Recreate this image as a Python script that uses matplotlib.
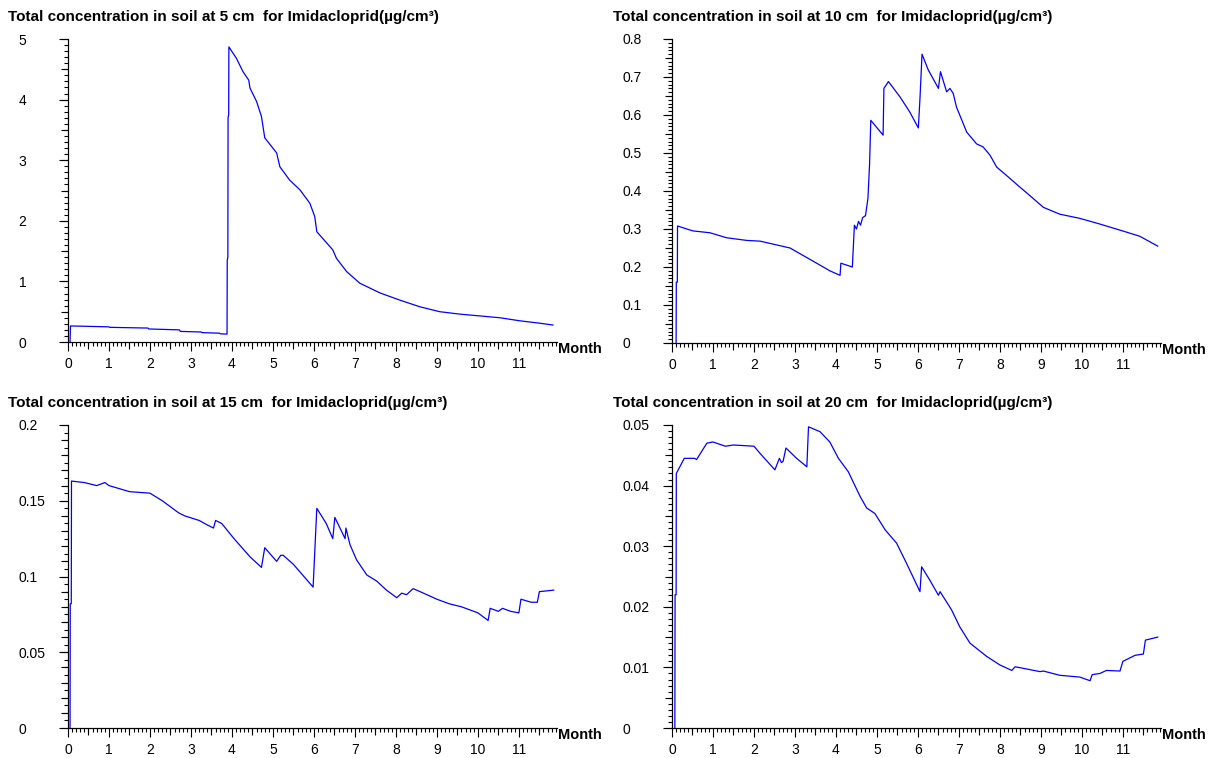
import matplotlib.pyplot as plt
from matplotlib.ticker import MultipleLocator, FuncFormatter
import numpy as np

plt.rcParams['font.family'] = ['Liberation Sans', 'DejaVu Sans']
plt.rcParams['font.size'] = 10

# time in months, concentration in ug/cm3
month_5cm = [0.05, 0.06, 1.0, 1.02, 1.95, 1.97, 2.72, 2.74, 3.25, 3.27,
             3.7, 3.72, 3.88, 3.885, 3.9, 3.905, 3.92, 3.925,
             4.11, 4.27, 4.41, 4.44, 4.6, 4.72, 4.8, 5.09, 5.17, 5.41, 5.66, 5.9,
             6.02, 6.07, 6.46, 6.55, 6.8, 7.12, 7.61, 8.1, 8.59, 9.07,
             9.56, 10.05, 10.54, 11.02, 11.51, 11.83]
conc_5cm = [0, 0.265, 0.25, 0.242, 0.23, 0.215, 0.2, 0.175, 0.165, 0.155,
            0.145, 0.135, 0.13, 1.35, 1.4, 3.7, 3.75, 4.87,
            4.68, 4.46, 4.32, 4.19, 3.97, 3.72, 3.37, 3.12, 2.89, 2.67, 2.51, 2.29,
            2.07, 1.82, 1.52, 1.38, 1.16, 0.97, 0.81, 0.69, 0.58, 0.5,
            0.46, 0.43, 0.4, 0.35, 0.31, 0.28]

month_10cm = [0.1, 0.105, 0.13, 0.135, 0.36, 0.51, 0.93, 1.33, 1.82, 2.15,
              2.88, 3.61, 3.85, 4.1, 4.12, 4.4, 4.45, 4.5, 4.55, 4.6,
              4.65, 4.72, 4.78, 4.82, 4.85, 5.15, 5.17, 5.28, 5.56, 5.8,
              6.01, 6.05, 6.1, 6.25, 6.5, 6.55, 6.7, 6.78, 6.86, 6.94,
              7.19, 7.43, 7.59, 7.76, 7.92, 8.16, 8.49, 8.73, 9.06, 9.46,
              9.95, 10.44, 10.93, 11.41, 11.85]
conc_10cm = [0, 0.16, 0.16, 0.308, 0.30, 0.295, 0.29, 0.277, 0.27, 0.268,
             0.25, 0.205, 0.19, 0.178, 0.21, 0.2, 0.31, 0.30, 0.32, 0.31,
             0.33, 0.335, 0.38, 0.47, 0.586, 0.547, 0.67, 0.688, 0.648, 0.608,
             0.566, 0.644, 0.76, 0.719, 0.67, 0.714, 0.661, 0.67, 0.657, 0.621,
             0.555, 0.524, 0.516, 0.494, 0.463, 0.441, 0.41, 0.388, 0.357, 0.339,
             0.328, 0.313, 0.297, 0.281, 0.255]

month_15cm = [0.05, 0.055, 0.08, 0.085, 0.4, 0.7, 0.9, 1.0, 1.5, 2.0,
              2.3, 2.7, 2.85, 3.2, 3.4, 3.55, 3.6, 3.75, 3.9, 4.05,
              4.44, 4.72, 4.8, 5.09, 5.19, 5.25, 5.5, 5.98, 6.07, 6.3,
              6.46, 6.51, 6.76, 6.78, 6.88, 7.04, 7.29, 7.53, 7.77, 8.02,
              8.14, 8.26, 8.42, 8.59, 9.0, 9.3, 9.6, 10.0, 10.25, 10.3,
              10.5, 10.6, 10.8, 11.0, 11.05, 11.3, 11.45, 11.5, 11.85]
conc_15cm = [0, 0.082, 0.082, 0.163, 0.162, 0.16, 0.162, 0.16, 0.156, 0.155,
             0.15, 0.142, 0.14, 0.137, 0.134, 0.132, 0.137, 0.135, 0.13, 0.125,
             0.113, 0.106, 0.119, 0.11, 0.114, 0.114, 0.108, 0.093, 0.145, 0.135,
             0.125, 0.139, 0.125, 0.132, 0.121, 0.111, 0.101, 0.097, 0.091, 0.086,
             0.089, 0.088, 0.092, 0.09, 0.085, 0.082, 0.08, 0.076, 0.071, 0.079,
             0.077, 0.079, 0.077, 0.076, 0.085, 0.083, 0.083, 0.09, 0.091]

month_20cm = [0.07, 0.075, 0.1, 0.105, 0.3, 0.55, 0.6, 0.85, 1.0, 1.3,
              1.5, 2.0, 2.15, 2.51, 2.62, 2.67, 2.71, 2.78, 3.04, 3.29,
              3.33, 3.61, 3.85, 4.06, 4.3, 4.59, 4.75, 4.95, 5.2, 5.48,
              5.72, 6.05, 6.09, 6.29, 6.5, 6.54, 6.82, 7.02, 7.27, 7.68,
              8.0, 8.29, 8.37, 8.53, 8.98, 9.06, 9.46, 9.95, 10.2, 10.25,
              10.44, 10.6, 10.93, 11.0, 11.3, 11.5, 11.55, 11.85]
conc_20cm = [0, 0.022, 0.022, 0.042, 0.0445, 0.0445, 0.0443, 0.047, 0.0472, 0.0465,
             0.0467, 0.0465, 0.0453, 0.0426, 0.0445, 0.0438, 0.044, 0.0462, 0.0445, 0.0431,
             0.0497, 0.0489, 0.0472, 0.0445, 0.0423, 0.0382, 0.0363, 0.0354, 0.0327, 0.0305,
             0.0272, 0.0225, 0.0266, 0.0244, 0.0219, 0.0225, 0.0195, 0.0167, 0.014, 0.0118,
             0.0104, 0.0095, 0.0101, 0.0099, 0.0093, 0.0094, 0.0087, 0.0084, 0.0078, 0.0088,
             0.009, 0.0095, 0.0094, 0.011, 0.012, 0.0122, 0.0145, 0.015]

depths = ['5', '10', '15', '20']
month_labels = [str(m) for m in range(12)]

W, H = 1212, 758
fig = plt.figure(figsize=(W / 100, H / 100), dpi=100)

# (left px, top px, bottom px), y max, y major, y medium, y minor
panels = [
    (month_5cm, conc_5cm, (68, 39, 342), 5, 1, 0.5, 0.1),
    (month_10cm, conc_10cm, (672, 39, 343), 0.8, 0.1, 0.05, 0.01),
    (month_15cm, conc_15cm, (68, 425, 728), 0.2, 0.05, 0.01, 0.005),
    (month_20cm, conc_20cm, (672, 425, 728), 0.05, 0.01, 0.005, 0.001),
]

fmt = FuncFormatter(lambda v, p: '%g' % round(v, 6))

for i, (t, c, (lpx, tpx, bpx), ymax, ymaj, ymed, ymin) in enumerate(panels):
    ax = fig.add_axes([lpx / W, 1 - bpx / H, 489 / W, (bpx - tpx) / H])
    ax.plot(t, c, color='#0000ff', lw=0.9)
    ax.set_xlim(0, 11.93)
    ax.set_ylim(0, ymax)
    for s in ['top', 'right']:
        ax.spines[s].set_visible(False)

    ax.set_xticks(range(12))
    ax.set_xticklabels(month_labels)
    ax.xaxis.set_minor_locator(MultipleLocator(0.1))
    ax.set_yticks(np.arange(0, ymax + ymaj / 2, ymaj))
    ax.yaxis.set_major_formatter(fmt)
    ax.yaxis.set_minor_locator(MultipleLocator(ymin))
    ax.tick_params(which='major', length=6.5, width=0.8)
    ax.tick_params(which='minor', length=3, width=0.8)
    ax.tick_params(axis='x', which='major', pad=4)
    ax.tick_params(axis='y', which='major', pad=29)
    for lab in ax.get_yticklabels():
        lab.set_ha('left')

    # medium ticks at half steps
    secx = ax.secondary_xaxis('bottom')
    secx.set_xticks(np.arange(0.5, 12, 1))
    secx.tick_params(length=5, width=0.8, labelbottom=False)
    secy = ax.secondary_yaxis('left')
    secy.set_yticks(np.arange(0, ymax + ymed / 2, ymed))
    secy.tick_params(length=5, width=0.8, labelleft=False)

    ax.text(1.002, 0.0, 'Month', transform=ax.transAxes, ha='left', va='top',
            fontweight='bold', fontsize=10.5)

    tx = 8 if lpx < 300 else 613
    ty = 17 if tpx < 300 else 403
    fig.text(tx / W, 1 - ty / H,
             'Total concentration in soil at %s cm  for Imidacloprid(\u00b5g/cm\u00b3)' % depths[i],
             ha='left', va='center', fontweight='bold', fontsize=11)

fig.savefig('out.png', dpi=100)
